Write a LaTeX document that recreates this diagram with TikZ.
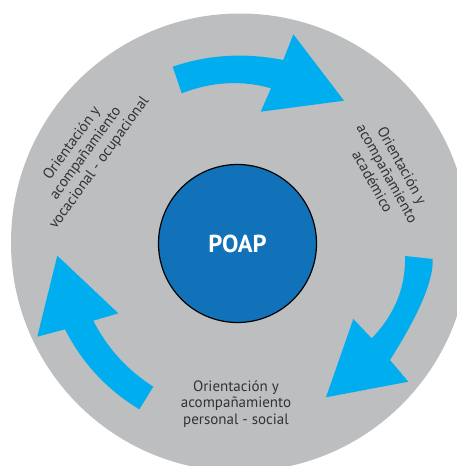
\documentclass[tikz,border=0pt]{standalone}
\usepackage{fontspec}
\setmainfont{PT Sans}
\definecolor{ringgray}{HTML}{BCBEC0}
\definecolor{arrowcyan}{HTML}{00AEEF}
\definecolor{coreblue}{HTML}{1172BA}
\definecolor{labeltext}{HTML}{333333}
\begin{document}
\begin{tikzpicture}[x=1pt,y=-1pt,
  arrowshape/.style={fill=arrowcyan, draw=none},
  ringlabel/.style={text=labeltext, font=\fontsize{15}{16.8}\selectfont, align=center, inner sep=0pt}]
\clip (0,0) rectangle (457,466);
\fill[white] (0,0) rectangle (457,466);
\node[circle, fill=ringgray, draw=none, minimum size=458pt, inner sep=0pt] (ring) at (240,242.5) {};
% top arrow
\fill[arrowshape] (172.7,66.7) .. controls (207.8,54.7) and (244.7,52.4) .. (283.3,60)
  -- (293.3,34.3) -- (344,100.7) -- (260.7,111.7) -- (271,88.3)
  .. controls (241.7,80.0) and (211.9,81.6) .. (181.7,93.3) -- cycle;
% right arrow
\fill[arrowshape] (405,256) -- (432.7,259) .. controls (433.6,280) and (419.4,313.7) .. (390,360)
  -- (408.3,381.7) -- (326,397.3) -- (353.3,319) -- (371.7,338.3)
  .. controls (394.7,314.7) and (405.8,287.2) .. (405,256) -- cycle;
% left arrow
\fill[arrowshape] (153.3,386.7) -- (139.3,409.3) .. controls (106.9,389.7) and (82.1,363.0) .. (65,329.3)
  -- (37.3,336.7) -- (57.3,255.7) -- (118.3,313.3) -- (93.3,320.7)
  .. controls (107.2,348.0) and (127.2,370.0) .. (153.3,386.7) -- cycle;
\node[circle, fill=coreblue, draw=black, line width=1.2pt, minimum size=158pt, inner sep=0pt,
  text=white, font=\fontsize{24.5}{28}\selectfont\bfseries] (core) at (237.5,243.5) {POAP};
\node[ringlabel, rotate=54] (vocacional) at (85.8,153.3) {Orientación y\\acompañamiento\\vocacional - ocupacional};
\node[ringlabel, rotate=-61] (academico) at (387.5,173.3) {Orientación y\\acompañamiento\\académico};
\node[ringlabel] (personal) at (236,404) {Orientación y\\acompañamiento\\personal - social};
\end{tikzpicture}
\end{document}
